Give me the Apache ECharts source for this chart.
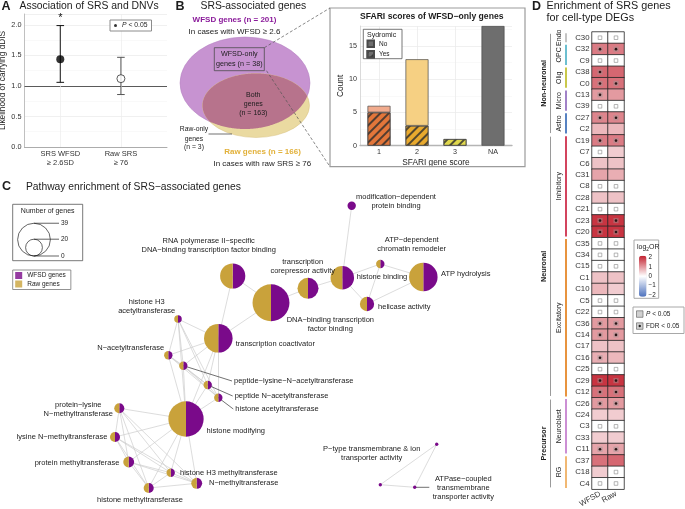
<!DOCTYPE html>
<html>
<head>
<meta charset="utf-8">
<script src="https://cdn.jsdelivr.net/npm/echarts@6.0.0/dist/echarts.min.js"></script>
<style>
html,body{margin:0;padding:0;background:#ffffff;}
#chart{width:685px;height:509px;}
</style>
</head>
<body>
<div id="chart"></div>
<script>
// ================= DATA =================
// Panel A: association of SRS and DNVs
const assocGroups = ['SRS WFSD\n≥ 2.6SD', 'Raw SRS\n≥ 76'];
const assocEstimate = [1.44, 1.12];
const assocLower = [1.06, 0.86];
const assocUpper = [1.99, 1.47];
const assocSignificant = [true, false];

// Panel B: SRS-associated genes (Venn) and SFARI scores
const vennWfsdGenes = 201;
const vennRawGenes = 166;
const vennBothGenes = 163;
const vennWfsdOnly = 38;
const vennRawOnly = 3;
const sfariScores = ['1', '2', '3', 'NA'];
const sfariSyndromicYes = [5, 3, 1, 0];
const sfariSyndromicNo = [1, 10, 0, 18];

// Panel C: pathway enrichment network
const pathwayLabels = [
  'modification−dependent\nprotein binding',
  'RNA polymerase II−specific\nDNA−binding transcription factor binding',
  'DNA−binding transcription\nfactor binding',
  'transcription\ncorepressor activity',
  'histone binding',
  'ATP−dependent\nchromatin remodeler',
  'ATP hydrolysis',
  'helicase activity',
  'transcription coactivator',
  'histone H3\nacetyltransferase',
  'N−acetyltransferase',
  'peptide−lysine−N−acetyltransferase',
  'peptide N−acetyltransferase',
  'histone acetyltransferase',
  'histone modifying',
  'protein−lysine\nN−methyltransferase',
  'lysine N−methyltransferase',
  'protein methyltransferase',
  'histone H3 methyltransferase',
  'N−methyltransferase',
  'histone methyltransferase',
  '',
  'ATPase−coupled\ntransmembrane\ntransporter activity',
  'P−type transmembrane & ion\ntransporter activity'
];
// network layout coordinates of each pathway node
const pathwayX = [351.7, 232.7, 271.0, 308.0, 342.3, 380.3, 423.3, 367.0, 218.3, 178.0, 168.3, 183.3, 207.7, 218.3, 186.0, 119.3, 115.0, 128.7, 170.7, 196.7, 148.7, 380.3, 414.7, 436.7];
const pathwayY = [205.7, 276.0, 302.7, 288.3, 277.7, 264.0, 277.0, 304.0, 338.3, 319.0, 355.3, 365.7, 385.0, 397.7, 419.0, 408.3, 437.0, 462.0, 472.7, 483.3, 488.0, 484.7, 487.3, 444.3];
const pathwayWfsdGenes = [10, 30, 44, 25, 28, 10, 34, 17, 34, 9, 10, 10, 10, 10, 42, 12, 12, 13, 10, 13, 12, 4, 4, 4];
const pathwayRawGenes  = [0, 30, 44, 25, 28, 10, 34, 17, 34, 9, 10, 10, 10, 10, 42, 12, 12, 13, 10, 13, 12, 0, 0, 0];
const pathwayLinks = [[0,4],[1,2],[1,8],[2,8],[2,3],[3,4],[4,5],[4,7],[5,6],[5,7],[7,6],[21,22],[22,23],[21,23]];
const pathwayCliques = [[8,9,10,11,12,13,14],[14,15,16,17,18,19,20]];
const sizeLegendValues = [39, 20, 0];

// Panel D: enrichment heatmap
const cellTypes = ['C30','C32','C9','C38','C0','C13','C39','C27','C2','C19','C7','C6','C31','C8','C28','C21','C23','C20','C35','C34','C15','C1','C10','C5','C22','C36','C14','C17','C16','C25','C29','C12','C26','C24','C3','C33','C11','C37','C18','C4'];
const log2orWfsd = [0,1.3,0,1.5,1.4,1.0,0,1.2,0.7,1.3,0,0.6,0.9,0,0.6,0,2.0,2.0,0,0,0,0.6,0.7,0,0,1.0,1.0,0.6,0.8,0,2.0,1.4,1.0,0.5,0,0.5,0.9,1.4,0.5,0];
const log2orRaw  = [0,1.3,0,1.5,1.4,1.0,0,1.2,0.7,1.3,0.5,0.6,0.8,0,0.6,0,2.0,2.0,0,0,0,0.6,0.5,0,0,1.0,1.0,0.6,0.7,0,2.0,1.4,1.0,0.5,0,0.5,0.9,1.5,0,0];
// F = FDR < 0.05, n = coloured only, x = empty marker
const markWfsd = ['x','F','x','F','F','F','x','F','n','F','x','n','n','x','n','x','F','F','x','x','x','n','n','x','x','F','F','n','F','x','F','F','F','n','x','n','F','n','n','x'];
const markRaw  = ['x','F','x','n','F','n','x','F','n','F','n','n','n','x','n','x','F','F','x','x','x','n','n','x','x','F','F','n','n','x','F','F','F','n','x','n','F','n','x','x'];
const heatColumns = ['WFSD', 'Raw'];
const cellGroups = ['Endo','OPC','Olig','Micro','Astro','Inhibitory','Excitatory','Neuroblast','RG'];
const cellGroupSizes = [1,2,2,2,2,9,14,5,3];
const cellClasses = ['Non-neuronal','Neuronal','Precursor'];
const cellClassSizes = [9,23,8];
const log2orTicks = [2, 1, 0, -1, -2];

// ================= STYLE =================
const FONT = '"Liberation Sans", Arial, Helvetica, sans-serif';
const INK = '#1c1c1c';
const PURPLE = '#7a0a8a';
const GOLD = '#c9a23b';
const RADIUS_PER_GENE = 0.42;
const sfariYesColors = ['#e3763a', '#e9aa2e', '#e0d84c', '#6e6e6e'];
const sfariNoColors = ['#f1ab8d', '#f6d083', '#f3ec8c', '#6e6e6e'];
const groupColors = ['#c4c4c4','#6cbfd0','#c9c84a','#a182c8','#5782c2','#d3445e','#e8943f','#cc8fd4','#f1b873'];
const hatch = {symbol:'rect', symbolSize:1, symbolKeepAspect:false, color:'rgba(45,45,45,0.8)', dashArrayX:[1,0], dashArrayY:[1.6,3.6], rotation:-Math.PI/4};
const labelLayout = [
  [396,201.3,'center'],[208.7,245.8,'center'],[330.3,324.5,'center'],[302.7,266.2,'center'],[382,277.3,'center'],
  [411.7,244.5,'center'],[465.7,274.3,'center'],[404.3,306.7,'center'],[275.3,344.3,'center'],[146.7,306.5,'center'],
  [130.7,348.3,'center'],[234,381,'left'],[234.7,396,'left'],[235.3,409,'left'],[235.8,431,'center'],
  [78.3,409.5,'center'],[62,436.7,'center'],[77,463.3,'center'],[180,472.7,'left'],[209,483.3,'left'],
  [140,500,'center'],null,[463.3,488,'center'],[371.7,453.7,'center']
];
const leaderNodes = [11, 12, 13, 22];

function txt(x, y, text, o) {
  o = o || {};
  const st = {text: text, fontSize: o.size || 8, fontWeight: o.weight || 'normal', fontFamily: FONT,
    fill: o.color || INK, align: o.align || 'left', verticalAlign: 'middle'};
  if (o.lh) st.lineHeight = o.lh;
  if (o.rich) st.rich = o.rich;
  return {type: 'text', x: x, y: y, rotation: o.rotation || 0, silent: true, z: 20, style: st};
}

// ================= PANEL B VENN GEOMETRY =================
const ellW = {cx: 245, cy: 83, rx: 65, ry: 46};
const ellR = {cx: 256, cy: 105.5, rx: 53.5, ry: 32};
function ellPts(e, n) { const p = []; for (let k = 0; k < n; k++) { const t = 2 * Math.PI * k / n; p.push([e.cx + e.rx * Math.cos(t), e.cy + e.ry * Math.sin(t)]); } return p; }
function inside(e, p) { const dx = (p[0] - e.cx) / e.rx, dy = (p[1] - e.cy) / e.ry; return dx * dx + dy * dy <= 1.0001; }
let ov = ellPts(ellR, 360).filter(p => inside(ellW, p)).concat(ellPts(ellW, 360).filter(p => inside(ellR, p)));
const ovx = ov.reduce((s, p) => s + p[0], 0) / ov.length, ovy = ov.reduce((s, p) => s + p[1], 0) / ov.length;
ov.sort((a, b) => Math.atan2(a[1] - ovy, a[0] - ovx) - Math.atan2(b[1] - ovy, b[0] - ovx));
function ellipseEl(e, fill, stroke) {
  return {type: 'circle', x: e.cx, y: e.cy, scaleY: e.ry / e.rx, shape: {cx: 0, cy: 0, r: e.rx}, style: {fill: fill, stroke: stroke, lineWidth: 0.6}, silent: true, z: 5};
}

// ================= SERIES =================
const series = [];
// --- Panel A ---
series.push({
  type: 'custom', name: 'errorbars', xAxisIndex: 0, yAxisIndex: 0, z: 3, silent: true, clip: false,
  data: assocGroups.map((g, i) => [i + 1, assocLower[i], assocUpper[i], assocSignificant[i] ? 1 : 0]),
  renderItem: function (params, api) {
    const x = api.value(0), sig = api.value(3);
    const top = api.coord([x, api.value(2)]), bot = api.coord([x, api.value(1)]);
    const col = sig ? '#111111' : '#555555';
    const st = {stroke: col, lineWidth: 1};
    const ch = [
      {type: 'line', shape: {x1: top[0], y1: top[1], x2: bot[0], y2: bot[1]}, style: st},
      {type: 'line', shape: {x1: top[0] - 3.8, y1: top[1], x2: top[0] + 3.8, y2: top[1]}, style: st},
      {type: 'line', shape: {x1: bot[0] - 3.8, y1: bot[1], x2: bot[0] + 3.8, y2: bot[1]}, style: st}
    ];
    if (sig) ch.push({type: 'text', x: top[0], y: top[1] - 8, style: {text: '*', fontSize: 11, fontFamily: FONT, fill: '#111', align: 'center', verticalAlign: 'middle'}});
    return {type: 'group', children: ch};
  }
});
series.push({
  type: 'scatter', name: 'estimates', xAxisIndex: 0, yAxisIndex: 0, z: 4, silent: true, symbolSize: 8,
  data: assocEstimate.map((v, i) => ({value: [i + 1, v], itemStyle: assocSignificant[i] ? {color: '#000000'} : {color: '#ffffff', borderColor: '#333333', borderWidth: 1}})),
  markLine: {silent: true, symbol: 'none', z: 1, label: {show: false}, animation: false,
    data: [
      {yAxis: 1, lineStyle: {color: '#5a5a5a', width: 1, type: 'solid'}},
      {xAxis: 1, lineStyle: {color: '#ececec', width: 0.7, type: 'solid'}},
      {xAxis: 2, lineStyle: {color: '#ececec', width: 0.7, type: 'solid'}}
    ]}
});
series.push({type: 'scatter', name: 'P < 0.05', xAxisIndex: 0, yAxisIndex: 0, data: [], itemStyle: {color: '#000000'}});

// --- Panel B inset bars ---
series.push({
  type: 'bar', name: 'Yes', xAxisIndex: 1, yAxisIndex: 1, stack: 'sfari', barWidth: 23, z: 2,
  itemStyle: {color: '#6e6e6e', borderColor: '#4a4a4a', borderWidth: 0.7, decal: hatch},
  data: sfariSyndromicYes.map((v, i) => v > 0 ? {value: v, itemStyle: {color: sfariYesColors[i], decal: hatch}} : '-')
});
series.push({
  type: 'bar', name: 'No', xAxisIndex: 1, yAxisIndex: 1, stack: 'sfari', barWidth: 23, z: 2,
  itemStyle: {color: '#6e6e6e', borderColor: '#4a4a4a', borderWidth: 0.7},
  data: sfariSyndromicNo.map((v, i) => v > 0 ? {value: v, itemStyle: {color: sfariNoColors[i]}} : '-'),
  markLine: {silent: true, symbol: 'none', z: 1, label: {show: false}, animation: false,
    lineStyle: {color: '#ebebeb', width: 0.8, type: 'solid'},
    data: sfariScores.map(s => ({xAxis: s}))}
});

// --- Panel D heatmap ---
const heatData = [];
cellTypes.forEach((c, i) => { heatData.push([0, i, log2orWfsd[i]]); heatData.push([1, i, log2orRaw[i]]); });
const heatIndex = series.length;
series.push({
  type: 'heatmap', name: 'log2OR', xAxisIndex: 2, yAxisIndex: 2, data: heatData, z: 2, silent: true,
  itemStyle: {borderColor: '#262626', borderWidth: 0.8}
});
const emptyMarks = [], fdrMarks = [];
cellTypes.forEach((c, i) => {
  [markWfsd[i], markRaw[i]].forEach((m, j) => {
    if (m === 'x') emptyMarks.push([j, i]);
    if (m === 'F') fdrMarks.push([j, i]);
  });
});
series.push({type: 'scatter', name: 'empty', xAxisIndex: 2, yAxisIndex: 2, data: emptyMarks, symbol: 'rect', symbolSize: 3.6, z: 4, silent: true,
  itemStyle: {color: '#ffffff', borderColor: '#8c8c8c', borderWidth: 0.8}});
series.push({type: 'custom', name: 'fdr', xAxisIndex: 2, yAxisIndex: 2, data: fdrMarks, z: 4, silent: true,
  renderItem: function (params, api) {
    const c = api.coord([api.value(0), api.value(1)]);
    return {type: 'group', children: [
      {type: 'rect', shape: {x: c[0] - 2.6, y: c[1] - 2.6, width: 5.2, height: 5.2}, style: {fill: 'rgba(150,150,150,0.45)'}},
      {type: 'circle', shape: {cx: c[0], cy: c[1], r: 1.3}, style: {fill: '#2a1515'}}
    ]};
  }});
// group annotations
function spans(sizes) { const out = []; let a = 0; sizes.forEach((n, i) => { out.push([a, a + n - 1, i]); a += n; }); return out; }
series.push({type: 'custom', name: 'groups', xAxisIndex: 2, yAxisIndex: 2, data: spans(cellGroupSizes), clip: false, silent: true, z: 3,
  renderItem: function (params, api) {
    const s = api.value(0), e = api.value(1), gi = api.value(2);
    const a = api.coord([0, s]), b = api.coord([0, e]);
    const h = api.size([0, 1])[1], w = api.size([1, 0])[0];
    const gl = a[0] - w / 2;
    const y0 = a[1] - h / 2 + 1.3, y1 = b[1] + h / 2 - 1.3;
    return {type: 'group', children: [
      {type: 'line', shape: {x1: gl - 26, y1: y0, x2: gl - 26, y2: y1}, style: {stroke: groupColors[gi], lineWidth: 2}},
      {type: 'text', x: gl - 32.5, y: (y0 + y1) / 2, rotation: Math.PI / 2, style: {text: cellGroups[gi], fontSize: 7, fontFamily: FONT, fill: INK, align: 'center', verticalAlign: 'middle'}}
    ]};
  }});
series.push({type: 'custom', name: 'classes', xAxisIndex: 2, yAxisIndex: 2, data: spans(cellClassSizes), clip: false, silent: true, z: 3,
  renderItem: function (params, api) {
    const s = api.value(0), e = api.value(1), gi = api.value(2);
    const a = api.coord([0, s]), b = api.coord([0, e]);
    const h = api.size([0, 1])[1], w = api.size([1, 0])[0];
    const gl = a[0] - w / 2;
    const y0 = a[1] - h / 2 + 1.8, y1 = b[1] + h / 2 - 1.8;
    return {type: 'group', children: [
      {type: 'line', shape: {x1: gl - 41.5, y1: y0, x2: gl - 41.5, y2: y1}, style: {stroke: '#9a9a9a', lineWidth: 1}},
      {type: 'text', x: gl - 48, y: (y0 + y1) / 2, rotation: Math.PI / 2, style: {text: cellClasses[gi], fontSize: 7.2, fontWeight: 'bold', fontFamily: FONT, fill: INK, align: 'center', verticalAlign: 'middle'}}
    ]};
  }});

// --- Panel C network ---
const allLinks = pathwayLinks.slice();
pathwayCliques.forEach(cl => { for (let i = 0; i < cl.length; i++) for (let j = i + 1; j < cl.length; j++) allLinks.push([cl[i], cl[j]]); });
series.push({
  type: 'graph', name: 'network', coordinateSystem: 'cartesian2d', xAxisIndex: 3, yAxisIndex: 3, layout: 'none', silent: true, z: 1,
  symbolSize: 0.1, label: {show: false}, emphasis: {disabled: true},
  lineStyle: {color: '#cdcdcd', width: 0.7, opacity: 1, curveness: 0},
  data: pathwayX.map((x, i) => ({name: 'n' + i, value: [x, pathwayY[i]]})),
  links: allLinks.map(l => ({source: 'n' + l[0], target: 'n' + l[1]}))
});
series.push({
  type: 'custom', name: 'leaders', xAxisIndex: 3, yAxisIndex: 3, clip: false, silent: true, z: 2,
  data: leaderNodes.map(i => [pathwayX[i], pathwayY[i], i]),
  renderItem: function (params, api) {
    const i = api.value(2);
    const p = api.coord([api.value(0), api.value(1)]);
    const L = labelLayout[i];
    const endX = L[2] === 'left' ? L[0] - 2 : L[0] - 34;
    const endY = L[2] === 'left' ? L[1] : p[1];
    return {type: 'line', shape: {x1: p[0], y1: p[1], x2: endX, y2: endY}, style: {stroke: '#333333', lineWidth: 0.7}};
  }
});
series.push({
  type: 'custom', name: 'pathways', xAxisIndex: 3, yAxisIndex: 3, clip: false, silent: true, z: 3,
  data: pathwayX.map((x, i) => [x, pathwayY[i], pathwayWfsdGenes[i], pathwayRawGenes[i]]),
  renderItem: function (params, api) {
    const c = api.coord([api.value(0), api.value(1)]);
    const w = api.value(2), r = api.value(3);
    const rad = RADIUS_PER_GENE * Math.max(w, r);
    const f = w / (w + r);
    const s = -Math.PI / 2;
    const ch = [];
    if (f >= 1) ch.push({type: 'circle', shape: {cx: c[0], cy: c[1], r: rad}, style: {fill: PURPLE}});
    else if (f <= 0) ch.push({type: 'circle', shape: {cx: c[0], cy: c[1], r: rad}, style: {fill: GOLD}});
    else {
      ch.push({type: 'sector', shape: {cx: c[0], cy: c[1], r0: 0, r: rad, startAngle: s, endAngle: s + f * 2 * Math.PI, clockwise: true}, style: {fill: PURPLE}});
      ch.push({type: 'sector', shape: {cx: c[0], cy: c[1], r0: 0, r: rad, startAngle: s + f * 2 * Math.PI, endAngle: s + 2 * Math.PI, clockwise: true}, style: {fill: GOLD}});
    }
    return {type: 'group', children: ch};
  }
});
series.push({
  type: 'custom', name: 'pathwayLabels', xAxisIndex: 3, yAxisIndex: 3, clip: false, silent: true, z: 4,
  data: labelLayout.map((L, i) => L ? [L[0], L[1], i] : null).filter(d => d),
  renderItem: function (params, api) {
    const i = api.value(2);
    const p = api.coord([api.value(0), api.value(1)]);
    return {type: 'text', x: p[0], y: p[1], style: {text: pathwayLabels[i], fontSize: 7.5, fontFamily: FONT, fill: INK, align: labelLayout[i][2], verticalAlign: 'middle', lineHeight: 9}};
  }
});
series.push({type: 'scatter', name: 'WFSD genes', xAxisIndex: 3, yAxisIndex: 3, data: [], itemStyle: {color: PURPLE}});
series.push({type: 'scatter', name: 'Raw genes', xAxisIndex: 3, yAxisIndex: 3, data: [], itemStyle: {color: GOLD}});

// ================= GRAPHICS (titles, Venn, legends) =================
const g = [];
// panel titles
g.push(txt(1.5, 6.5, 'A', {size: 12.5, weight: 'bold'}));
g.push(txt(19.5, 6.5, 'Association of SRS and DNVs', {size: 10.4}));
g.push(txt(175.5, 6.5, 'B', {size: 12.5, weight: 'bold'}));
g.push(txt(200.5, 6.5, 'SRS-associated genes', {size: 10.4}));
g.push(txt(2, 187, 'C', {size: 12.5, weight: 'bold'}));
g.push(txt(26, 187, 'Pathway enrichment of SRS−associated genes', {size: 10.3}));
g.push(txt(532, 6.5, 'D', {size: 12.5, weight: 'bold'}));
g.push(txt(546.5, 6.5, 'Enrichment of SRS genes', {size: 10.8}));
g.push(txt(546.5, 18.3, 'for cell-type DEGs', {size: 10.8}));

// Venn
g.push(ellipseEl(ellW, '#c793d1', '#b37fc0'));
g.push(ellipseEl(ellR, '#eadaa1', '#d6c07f'));
g.push({type: 'polygon', shape: {points: ov}, style: {fill: '#b7738c'}, silent: true, z: 6});
g.push({type: 'rect', shape: {x: 214.3, y: 47.7, width: 50, height: 23}, style: {fill: 'none', stroke: '#4d4d4d', lineWidth: 0.8}, silent: true, z: 7});
g.push(txt(239.3, 54.3, 'WFSD-only', {size: 7.2, align: 'center'}));
g.push(txt(239.3, 63.8, 'genes (n = ' + vennWfsdOnly + ')', {size: 7.2, align: 'center'}));
g.push(txt(253.3, 95, 'Both', {size: 7, align: 'center'}));
g.push(txt(253.3, 104.5, 'genes', {size: 7, align: 'center'}));
g.push(txt(253.3, 113.5, '(n = ' + vennBothGenes + ')', {size: 7, align: 'center'}));
g.push(txt(234.5, 20, 'WFSD genes (n = ' + vennWfsdGenes + ')', {size: 8, weight: 'bold', color: '#8a1a9a', align: 'center'}));
g.push(txt(234.5, 31.7, 'In cases with WFSD ≥ 2.6', {size: 8, align: 'center'}));
g.push(txt(262.5, 151.7, 'Raw genes (n = ' + vennRawGenes + ')', {size: 8, weight: 'bold', color: '#e2b13a', align: 'center'}));
g.push(txt(262.3, 164, 'In cases with raw SRS ≥ 76', {size: 8, align: 'center'}));
g.push(txt(194, 129.3, 'Raw-only', {size: 6.8, align: 'center'}));
g.push(txt(194, 138.7, 'genes', {size: 6.8, align: 'center'}));
g.push(txt(194, 147.3, '(n = ' + vennRawOnly + ')', {size: 6.8, align: 'center'}));
g.push({type: 'line', shape: {x1: 208.5, y1: 134, x2: 232, y2: 134}, style: {stroke: '#333', lineWidth: 0.7}, silent: true, z: 8});
g.push({type: 'line', shape: {x1: 264.3, y1: 47.7, x2: 330, y2: 8}, style: {stroke: '#555', lineWidth: 0.7, lineDash: [3, 2]}, silent: true, z: 8});
g.push({type: 'line', shape: {x1: 266.5, y1: 70.7, x2: 330, y2: 166.7}, style: {stroke: '#555', lineWidth: 0.7, lineDash: [3, 2]}, silent: true, z: 8});
// inset frame
g.push({type: 'rect', shape: {x: 330, y: 8, width: 195, height: 158.7}, style: {fill: 'none', stroke: '#9c9c9c', lineWidth: 1.2}, silent: true, z: 1});
g.push(txt(431.7, 16.5, 'SFARI scores of WFSD−only genes', {size: 8.6, weight: 'bold', align: 'center'}));
g.push({type: 'rect', shape: {x: 363.3, y: 29.3, width: 38.7, height: 29.4}, style: {fill: '#ffffff', stroke: '#555', lineWidth: 0.8}, silent: true, z: 3});
g.push(txt(367, 35, 'Sydromic', {size: 7}));

// Panel C legends
g.push({type: 'rect', shape: {x: 12.7, y: 204.3, width: 70, height: 56.4}, style: {fill: 'none', stroke: '#555', lineWidth: 0.8}, silent: true});
g.push(txt(47.7, 211, 'Number of genes', {size: 7, align: 'center'}));
sizeLegendValues.forEach(v => {
  const r = RADIUS_PER_GENE * v;
  const yTop = 256 - 2 * r;
  if (v > 0) g.push({type: 'circle', shape: {cx: 34, cy: 256 - r, r: r}, style: {fill: 'none', stroke: '#222', lineWidth: 0.7}, silent: true});
  g.push({type: 'line', shape: {x1: 34, y1: yTop, x2: 59, y2: yTop}, style: {stroke: '#222', lineWidth: 0.7}, silent: true});
  g.push(txt(61, yTop, String(v), {size: 6.5}));
});

// Panel D legends
g.push({type: 'rect', shape: {x: 634, y: 240, width: 24.7, height: 58.3}, style: {fill: '#fff', stroke: '#a8a8a8', lineWidth: 1}, silent: true, z: 1});
g.push(txt(637, 247.5, '{a|log}{s|2}{a|OR}', {size: 7, rich: {a: {fontSize: 7, fontFamily: FONT, fill: INK}, s: {fontSize: 4.8, fontFamily: FONT, fill: INK, padding: [4, 0, 0, 0]}}}));
log2orTicks.forEach(v => {
  const y = 255.7 + (2.2 - v) / 4.4 * 41;
  g.push(txt(648.5, y, v < 0 ? '−' + Math.abs(v) : String(v), {size: 6.3}));
});
g.push({type: 'rect', shape: {x: 633, y: 307, width: 51, height: 26.5}, style: {fill: '#fff', stroke: '#a8a8a8', lineWidth: 1}, silent: true, z: 1});
g.push({type: 'rect', shape: {x: 636.5, y: 310.8, width: 6.5, height: 6.5}, style: {fill: '#d0d0d0', stroke: '#555', lineWidth: 0.6}, silent: true, z: 21});
g.push({type: 'rect', shape: {x: 636.5, y: 322.8, width: 6.5, height: 6.5}, style: {fill: '#d0d0d0', stroke: '#555', lineWidth: 0.6}, silent: true, z: 21});
g.push({type: 'circle', shape: {cx: 639.75, cy: 326.05, r: 1.2}, style: {fill: '#222'}, silent: true, z: 22});
g.push(txt(646, 314, '{i|P} < 0.05', {size: 6.5, rich: {i: {fontStyle: 'italic', fontSize: 6.5, fontFamily: FONT, fill: INK}}}));
g.push(txt(646, 326, 'FDR < 0.05', {size: 6.5}));

// ================= OPTION =================
const axisText = {fontFamily: FONT, color: '#333333'};
const option = {
  animation: false,
  backgroundColor: '#ffffff',
  textStyle: {fontFamily: FONT},
  grid: [
    {left: 24.5, top: 14, width: 142.5, height: 133, outerBoundsMode: 'none'},
    {left: 360, top: 26, width: 152, height: 119.7, outerBoundsMode: 'none'},
    {left: 592, top: 32, width: 32, height: 457.2, outerBoundsMode: 'none'},
    {left: 0, top: 0, width: 685, height: 509, outerBoundsMode: 'none'}
  ],
  xAxis: [
    {gridIndex: 0, type: 'value', min: 0.41, max: 2.76,
      axisLine: {show: true, onZero: false, lineStyle: {color: '#9a9a9a', width: 0.8}}, axisTick: {show: false}, splitLine: {show: false},
      axisLabel: Object.assign({customValues: [1, 2], formatter: v => assocGroups[Math.round(v) - 1] || '', fontSize: 7.5, lineHeight: 8.5, margin: 3}, axisText)},
    {gridIndex: 1, type: 'category', data: sfariScores,
      axisLine: {show: true, lineStyle: {color: '#b5b5b5', width: 1.4}}, axisTick: {show: false}, splitLine: {show: false},
      axisLabel: Object.assign({fontSize: 7.2, margin: 3, interval: 0}, axisText),
      name: 'SFARI gene score', nameLocation: 'middle', nameGap: 13, nameTextStyle: {fontSize: 8.3, color: INK, fontFamily: FONT}},
    {gridIndex: 2, type: 'category', data: heatColumns,
      axisLine: {show: false}, axisTick: {show: false}, splitLine: {show: false},
      axisLabel: Object.assign({fontSize: 7.8, rotate: 30, margin: 4, interval: 0}, axisText)},
    {gridIndex: 3, type: 'value', min: 0, max: 685, show: false}
  ],
  yAxis: [
    {gridIndex: 0, type: 'value', min: 0, max: 2.18, interval: 0.5,
      axisLine: {show: true, lineStyle: {color: '#b0b0b0', width: 0.8}}, axisTick: {show: false},
      axisLabel: Object.assign({fontSize: 7.3, margin: 3, showMaxLabel: false, formatter: v => v.toFixed(1)}, axisText),
      splitLine: {show: true, lineStyle: {color: '#e6e6e6', width: 0.6}},
      minorTick: {show: false, splitNumber: 2}, minorSplitLine: {show: true, lineStyle: {color: '#f3f3f3', width: 0.5}},
      name: 'Likelihood of carrying dDIS', nameLocation: 'middle', nameGap: 17.5, nameTextStyle: {fontSize: 8.3, color: INK, fontFamily: FONT}},
    {gridIndex: 1, type: 'value', min: 0, max: 18, interval: 5,
      axisLine: {show: true, lineStyle: {color: '#d0d0d0', width: 0.8}}, axisTick: {show: false},
      axisLabel: Object.assign({fontSize: 7.2, margin: 3, showMaxLabel: false}, axisText),
      splitLine: {show: true, lineStyle: {color: '#e6e6e6', width: 0.6}},
      minorTick: {show: false, splitNumber: 2}, minorSplitLine: {show: true, lineStyle: {color: '#f3f3f3', width: 0.5}},
      name: 'Count', nameLocation: 'middle', nameGap: 15, nameTextStyle: {fontSize: 8.3, color: INK, fontFamily: FONT}},
    {gridIndex: 2, type: 'category', data: cellTypes, inverse: true,
      axisLine: {show: false}, axisTick: {show: false}, splitLine: {show: false},
      axisLabel: Object.assign({fontSize: 7.8, margin: 2.5, interval: 0}, axisText)},
    {gridIndex: 3, type: 'value', min: 0, max: 509, inverse: true, show: false}
  ],
  visualMap: [{
    type: 'continuous', seriesIndex: heatIndex, min: -2.2, max: 2.2, calculable: false, realtime: false,
    inRange: {color: ['#4d72be', '#ffffff', '#c2202e']},
    left: 639, top: 255.7, itemWidth: 7.5, itemHeight: 41, padding: 0, text: null, showLabel: false, hoverLink: false
  }],
  legend: [
    {data: ['P < 0.05'], left: 110, top: 20, orient: 'horizontal', icon: 'circle', itemWidth: 3, itemHeight: 3, itemGap: 0,
      padding: [2, 4, 2, 4], borderColor: '#8c8c8c', borderWidth: 1, backgroundColor: '#ffffff', selectedMode: false,
      formatter: () => '{i|P} < 0.05',
      textStyle: {fontSize: 6.8, color: INK, fontFamily: FONT, rich: {i: {fontStyle: 'italic', fontSize: 6.8, fontFamily: FONT, color: INK}}}},
    {data: ['No', 'Yes'], left: 366.5, top: 39.5, orient: 'vertical', icon: 'rect', itemWidth: 6.5, itemHeight: 6.5, itemGap: 2,
      padding: 0, selectedMode: false, z: 5, textStyle: {fontSize: 6.5, color: INK, fontFamily: FONT}},
    {data: ['WFSD genes', 'Raw genes'], left: 12.7, top: 270, orient: 'vertical', icon: 'rect', itemWidth: 7, itemHeight: 7, itemGap: 1.5,
      padding: [2, 5, 2, 2.5], borderColor: '#777', borderWidth: 0.8, selectedMode: false, textStyle: {fontSize: 6.5, color: INK, fontFamily: FONT}}
  ],
  series: series,
  graphic: {elements: g}
};
const chart = echarts.init(document.getElementById('chart'), null, {renderer: 'canvas'});
chart.setOption(option);
</script>
</body>
</html>
